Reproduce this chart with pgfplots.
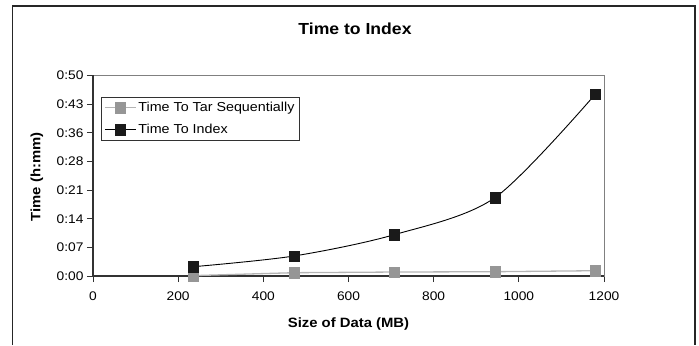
\documentclass[border=0pt]{standalone}
\usepackage{fontspec}
\setmainfont{Liberation Sans}[FakeStretch=1.1]
\usepackage{pgfplots}
\pgfplotsset{compat=1.18}
\definecolor{tarline}{RGB}{180,180,180}
\definecolor{tarmark}{RGB}{150,150,150}
\definecolor{idxmark}{RGB}{26,26,26}
\definecolor{boxgray}{RGB}{128,128,128}
\definecolor{axisdark}{RGB}{50,50,50}
\begin{document}
\begin{tikzpicture}
\path (-93pt,-69pt) rectangle (606pt,276pt);
\draw[line width=1.3pt, black!85] (-80.5pt,-69pt) -- (-80.5pt,270pt) -- (602pt,270pt) -- (602pt,-69pt);
\node[font=\bfseries\fontsize{16}{18}\selectfont] at (262pt,247pt) {Time to Index};
\begin{axis}[
  at={(0pt,0pt)}, anchor=south west, scale only axis,
  width=511pt, height=200.5pt,
  xmin=0, xmax=1200, ymin=0, ymax=50.4,
  xtick={0,200,...,1200},
  ytick={0,7.2,14.4,21.6,28.8,36,43.2,50.4},
  yticklabels={0:00,0:07,0:14,0:21,0:28,0:36,0:43,0:50},
  tick align=outside, major tick length=6pt,
  tick style={axisdark, line width=0.8pt},
  xtick pos=bottom, ytick pos=left,
  axis line style={boxgray, line width=0.8pt},
  /pgf/number format/assume math mode=true,
  /pgf/number format/1000 sep={},
  tick label style={font=\fontsize{12.5}{14}\selectfont},
  xticklabel style={yshift=-6pt},
  xlabel={Size of Data (MB)}, ylabel={Time (h:mm)},
  label style={font=\bfseries\fontsize{13.5}{15}\selectfont},
  xlabel style={at={(axis description cs:0.5,-0.2374)}, anchor=center},
  ylabel style={at={(axis description cs:-0.1096,0.494)}, anchor=center},
  legend style={at={(axis description cs:0.0151,0.893)}, anchor=north west,
    draw=axisdark, line width=0.8pt, font=\fontsize{13}{15}\selectfont,
    row sep=7pt, inner xsep=3pt, inner ysep=3pt},
  legend cell align=left,
  legend image code/.code={\draw[mark repeat=2,mark phase=2,#1] plot coordinates {(0pt,0pt) (15.5pt,0pt) (31pt,0pt)};},
  clip=false,
]
\draw[axisdark, line width=1.2pt] (rel axis cs:0,1) -- (rel axis cs:0,0) -- (rel axis cs:1,0);
\addplot[tarline, line width=1.3pt, mark=square*, mark size=5.2pt,
  mark options={fill=tarmark, draw=tarmark, line width=0.4pt}]
  coordinates {(236,0.1) (472,0.83) (708,1.0) (944,1.08) (1180,1.33)};
\addlegendentry{Time To Tar Sequentially}
\addplot[black, line width=0.9pt, smooth, mark=square*, mark size=5.2pt,
  mark options={fill=idxmark, draw=idxmark, line width=0.4pt}]
  coordinates {(236,2.34) (472,5.03) (708,10.4) (944,19.7) (1180,45.75)};
\addlegendentry{Time To Index}
\end{axis}
\end{tikzpicture}
\end{document}
